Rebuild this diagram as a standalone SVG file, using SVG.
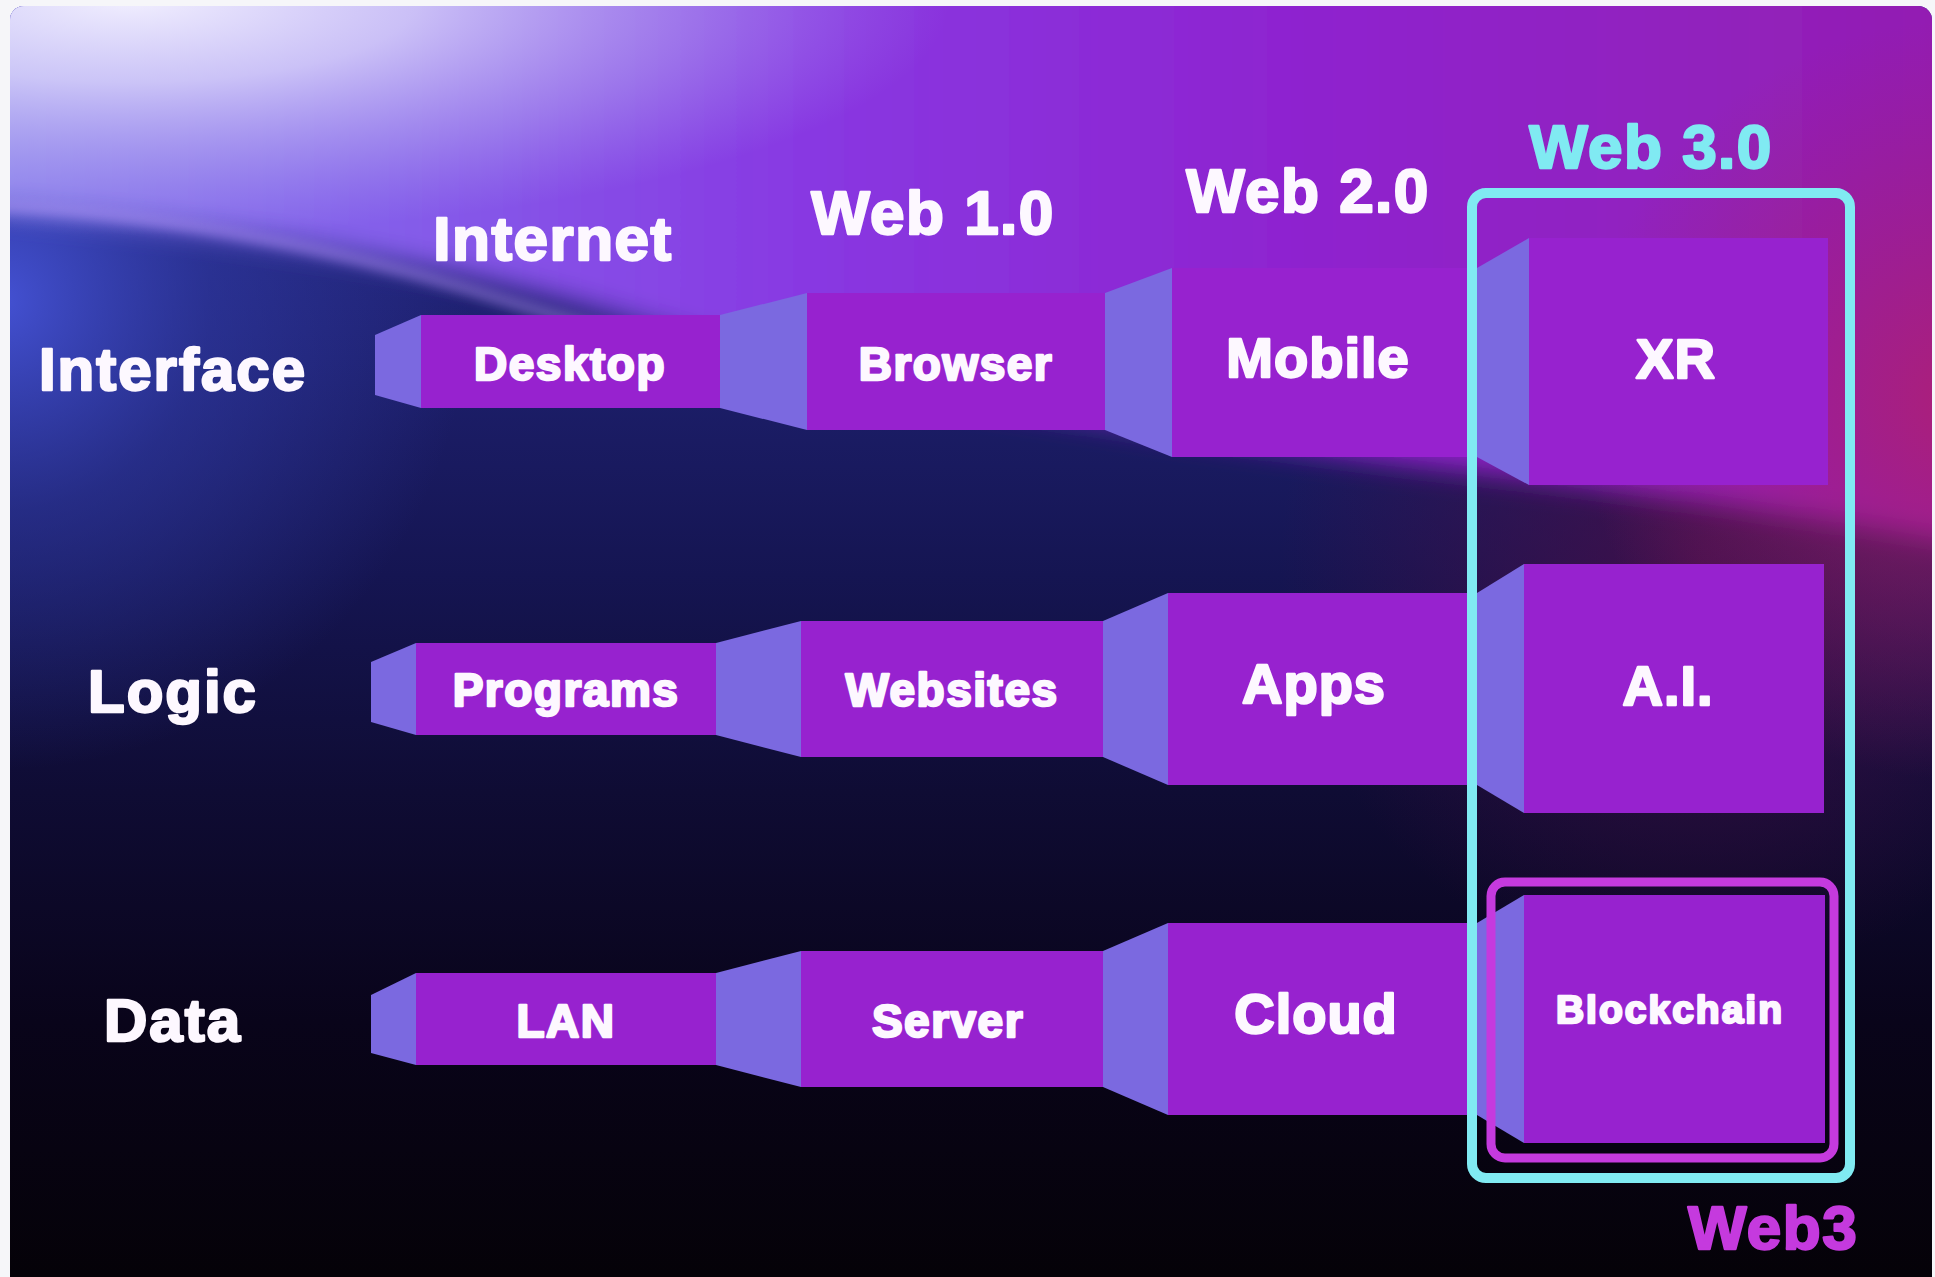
<svg xmlns="http://www.w3.org/2000/svg" width="1935" height="1277" viewBox="0 0 1935 1277">
<defs>
<style>
.t{font-family:"Liberation Sans",Arial,sans-serif;font-weight:700;fill:#fdf8ff;stroke:#fdf8ff;stroke-width:2.4;stroke-linejoin:round;text-anchor:middle}
.hd{font-size:62px;letter-spacing:1.5px}
.rl{font-size:60px;letter-spacing:2px}
.sm{font-size:46px;letter-spacing:1.5px}
.lg{font-size:56px;letter-spacing:1px}
.front{fill:#9722cf}
.bevel{fill:#7b69e0}
.cyan{fill:#80eaf2;stroke:#80eaf2}
.mag{fill:#c53ade;stroke:#c53ade}
</style>
<clipPath id="bgclip"><rect x="10" y="6" width="1922" height="1290" rx="14"/></clipPath>
<linearGradient id="base" x1="0" y1="0" x2="0" y2="1">
<stop offset="0" stop-color="#2a2c90"/>
<stop offset="0.28" stop-color="#1d1f6c"/>
<stop offset="0.45" stop-color="#151552"/>
<stop offset="0.62" stop-color="#0f0c34"/>
<stop offset="0.8" stop-color="#09041a"/>
<stop offset="1" stop-color="#050208"/>
</linearGradient>
<linearGradient id="sheet" x1="0" y1="0" x2="1" y2="0">
<stop offset="0" stop-color="#8a82ec"/>
<stop offset="0.2" stop-color="#8460ea"/>
<stop offset="0.42" stop-color="#8838e2"/>
<stop offset="0.7" stop-color="#8f20cc"/>
<stop offset="1" stop-color="#931fb0"/>
</linearGradient>
<radialGradient id="glow" cx="0.5" cy="0.5" r="0.5">
<stop offset="0" stop-color="#f4f2ff" stop-opacity="0.97"/>
<stop offset="0.35" stop-color="#dcd8fa" stop-opacity="0.8"/>
<stop offset="0.7" stop-color="#bab2f2" stop-opacity="0.42"/>
<stop offset="1" stop-color="#a89cf0" stop-opacity="0"/>
</radialGradient>
<radialGradient id="blueglow" cx="0" cy="300" r="470" gradientUnits="userSpaceOnUse">
<stop offset="0" stop-color="#4654d8" stop-opacity="0.95"/>
<stop offset="0.45" stop-color="#3440b0" stop-opacity="0.5"/>
<stop offset="1" stop-color="#3440b0" stop-opacity="0"/>
</radialGradient>
<radialGradient id="magglow" cx="1960" cy="400" r="380" gradientUnits="userSpaceOnUse">
<stop offset="0" stop-color="#b02070" stop-opacity="0.85"/>
<stop offset="1" stop-color="#a01f70" stop-opacity="0"/>
</radialGradient>
<radialGradient id="darkmag" cx="1700" cy="560" r="420" gradientUnits="userSpaceOnUse">
<stop offset="0" stop-color="#4a0e48" stop-opacity="0.8"/>
<stop offset="1" stop-color="#4a0e48" stop-opacity="0"/>
</radialGradient>
<filter id="blur" x="-10%" y="-10%" width="120%" height="130%"><feGaussianBlur stdDeviation="14"/></filter>
<filter id="blur2" x="-10%" y="-50%" width="120%" height="200%"><feGaussianBlur stdDeviation="6"/></filter>
</defs>

<rect x="0" y="0" width="1935" height="1277" fill="#f6f6f9"/>
<g id="background" clip-path="url(#bgclip)">
<rect x="0" y="0" width="1935" height="1277" fill="url(#base)"/>
<rect x="0" y="0" width="1935" height="1277" fill="url(#darkmag)"/>
<rect x="0" y="0" width="1935" height="1277" fill="url(#blueglow)"/>
<path d="M-40,-40 H1980 V545 C1800,515 1620,488 1480,472 C1300,452 1150,428 1000,404 C850,380 740,352 620,316 C480,274 300,236 -40,205 Z" fill="url(#sheet)" filter="url(#blur)"/>
<rect x="0" y="0" width="1935" height="1277" fill="url(#magglow)"/>
<path d="M-20,205 C150,212 320,245 470,290 C540,312 590,326 640,340" fill="none" stroke="#c0a0ff" stroke-width="10" stroke-opacity="0.45" filter="url(#blur2)"/>
<ellipse cx="130" cy="0" rx="820" ry="235" fill="url(#glow)"/>
</g>

<g id="connectors">
<polygon class="bevel" points="720,315 807,293 807,430 720,408"/>
<polygon class="bevel" points="1105,293 1172,268 1172,457 1105,430"/>
<polygon class="bevel" points="1477,268 1529,238 1529,485 1477,457"/>
<polygon class="bevel" points="716,643 801,621 801,757 716,735"/>
<polygon class="bevel" points="1103,621 1168,593 1168,785 1103,757"/>
<polygon class="bevel" points="1477,593 1524,564 1524,813 1477,785"/>
<polygon class="bevel" points="716,973 801,951 801,1087 716,1065"/>
<polygon class="bevel" points="1103,951 1168,923 1168,1115 1103,1087"/>
<polygon class="bevel" points="1477,923 1524,895 1524,1143 1477,1115"/>
</g>

<g id="labels">
<text class="t hd" x="553" y="260">Internet</text>
<text class="t hd" x="933" y="234">Web 1.0</text>
<text class="t hd" x="1308" y="212">Web 2.0</text>
<text class="t hd cyan" x="1651" y="168">Web 3.0</text>
<text class="t rl" x="173" y="390">Interface</text>
<text class="t rl" x="173" y="712">Logic</text>
<text class="t rl" x="173" y="1041">Data</text>
<text class="t hd mag" x="1773" y="1249">Web3</text>
</g>

<g id="desktop">
<polygon class="bevel" points="375,335 421,315 421,408 375,395"/>
<rect class="front" x="421" y="315" width="299" height="93"/>
<text class="t sm" x="570" y="380">Desktop</text>
</g>
<g id="browser">
<rect class="front" x="807" y="293" width="298" height="137"/>
<text class="t sm" x="956" y="380">Browser</text>
</g>
<g id="mobile">
<rect class="front" x="1172" y="268" width="305" height="189"/>
<text class="t lg" x="1318" y="377">Mobile</text>
</g>
<g id="xr">
<rect class="front" x="1529" y="238" width="299" height="247"/>
<text class="t lg" x="1676" y="378">XR</text>
</g>

<g id="programs">
<polygon class="bevel" points="371,662 416,643 416,735 371,722"/>
<rect class="front" x="416" y="643" width="300" height="92"/>
<text class="t sm" x="566" y="706">Programs</text>
</g>
<g id="websites">
<rect class="front" x="801" y="621" width="302" height="136"/>
<text class="t sm" x="952" y="706">Websites</text>
</g>
<g id="apps">
<rect class="front" x="1168" y="593" width="309" height="192"/>
<text class="t lg" x="1314" y="703">Apps</text>
</g>
<g id="ai">
<rect class="front" x="1524" y="564" width="300" height="249"/>
<text class="t lg" x="1668" y="705">A.I.</text>
</g>

<g id="lan">
<polygon class="bevel" points="371,995 416,973 416,1065 371,1053"/>
<rect class="front" x="416" y="973" width="300" height="92"/>
<text class="t sm" x="566" y="1037">LAN</text>
</g>
<g id="server">
<rect class="front" x="801" y="951" width="302" height="136"/>
<text class="t sm" x="948" y="1037">Server</text>
</g>
<g id="cloud">
<rect class="front" x="1168" y="923" width="309" height="192"/>
<text class="t lg" x="1316" y="1033">Cloud</text>
</g>
<g id="blockchain">
<rect class="front" x="1524" y="895" width="301" height="248"/>
<text class="t" style="font-size:39px;letter-spacing:2px" x="1670" y="1023">Blockchain</text>
</g>

<g id="web3-frame">
<rect x="1491" y="882" width="343" height="276" rx="14" fill="none" stroke="#c53ade" stroke-width="9"/>
</g>
<g id="web30-frame">
<rect x="1472" y="193" width="378" height="985" rx="14" fill="none" stroke="#80eaf2" stroke-width="10"/>
</g>
</svg>
